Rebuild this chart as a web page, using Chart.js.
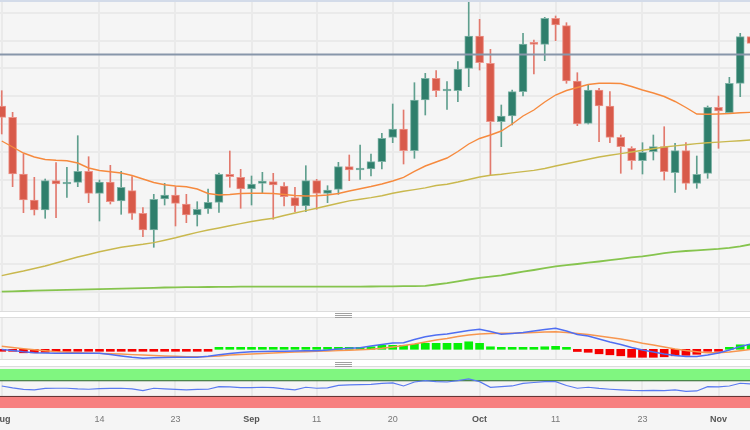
<!DOCTYPE html>
<html>
<head>
<meta charset="utf-8">
<title>Daily chart</title>
<script src="https://cdn.jsdelivr.net/npm/chart.js@4.4.0/dist/chart.umd.min.js"></script>
<style>
  html, body { margin: 0; padding: 0; background: #f5f5f5; }
  #board { position: relative; width: 750px; height: 430px; overflow: hidden; background: #f5f5f5; }
  .pane { position: absolute; left: 0; width: 750px; }
  .sep { position: absolute; left: 0; width: 750px; background: #fff; border-top: 1px solid #dcdcdc; border-bottom: 1px solid #dcdcdc; box-sizing: border-box; }
  .grip { position: absolute; left: 335px; width: 17px; height: 5px; background: repeating-linear-gradient(to bottom, #a0a0a0 0 1px, transparent 1px 2px); }
  #topline { position: absolute; left: 0; top: 0; width: 750px; height: 2px; background: #d3dbe9; }
</style>
</head>
<body>
<div id="board">
  <div class="pane" style="top:0;height:311px"><canvas id="priceChart"></canvas></div>
  <div id="topline"></div>
  <div class="sep" style="top:311px;height:7px"></div>
  <div class="grip" style="top:313px"></div>
  <div class="pane" style="top:318px;height:41px"><canvas id="macdChart"></canvas></div>
  <div class="sep" style="top:359px;height:8px"></div>
  <div class="grip" style="top:362px"></div>
  <div class="pane" style="top:369px;height:63px"><canvas id="rsiChart"></canvas></div>
</div>
<script>
    const days = ['Aug 1','Aug 2','Aug 3','Aug 4','Aug 7','Aug 8','Aug 9','Aug 10','Aug 11','Aug 14','Aug 15','Aug 16','Aug 17','Aug 18','Aug 21','Aug 22','Aug 23','Aug 24','Aug 25','Aug 28','Aug 29','Aug 30','Aug 31',
      'Sep 1','Sep 4','Sep 5','Sep 6','Sep 7','Sep 8','Sep 11','Sep 12','Sep 13','Sep 14','Sep 15','Sep 18','Sep 19','Sep 20','Sep 21','Sep 22','Sep 25','Sep 26','Sep 27','Sep 28','Sep 29',
      'Oct 2','Oct 3','Oct 4','Oct 5','Oct 6','Oct 9','Oct 10','Oct 11','Oct 12','Oct 13','Oct 16','Oct 17','Oct 18','Oct 19','Oct 20','Oct 23','Oct 24','Oct 25','Oct 26','Oct 27','Oct 30','Oct 31',
      'Nov 1','Nov 2','Nov 3','Nov 6'];

    const tickDays = ['Aug 1','Aug 14','Aug 23','Sep 1','Sep 11','Sep 20','Oct 2','Oct 11','Oct 23','Nov 1'];
    const tickText = ['Aug','14','23','Sep','11','20','Oct','11','23','Nov'];

    const opens = [214,202.7,146,120,110,139.3,136,137.7,148.7,126.7,138,119,129.3,106.7,90,121,125,116,105,111,117.7,145.7,142.7,131,136.7,138.3,134,122.3,114,139.3,126.7,130.7,153.3,150,151,158.3,182.7,191,169.3,220,241.7,229,229.3,251.7,284,256.7,198.3,204,228.3,276.7,275.7,301.7,294.3,239,196.7,230,214,182.7,171.7,159.3,168.3,173.3,147.3,169.3,136.7,146.7,212.7,207.3,236.7,283.3];
    const highs = [229.3,207.7,166,142.7,141,157.3,152.7,184.3,163.3,140,154.7,148.7,143.3,112.3,125.7,136.7,133.3,125.7,118.3,131,147,169,150.7,144,147.7,146.7,137.3,132.7,154.3,140.7,134.3,157.7,165,175,166,186.7,216,210,237.3,246.7,249.3,238.3,258.3,318.3,300.7,270.7,215,230,286.7,280,302.7,304,297.3,247.3,234.7,231.7,228.3,185,173.3,177.3,185,193.3,176.7,177.3,164,214,224,242.7,286.7,287];
    const lows = [186,133.3,107.3,105,101.7,102.3,122.7,133.3,117.3,99,116,105.7,100.7,83.3,72.7,115,94,97.3,94,106.7,107.7,132.7,111.7,115,126.7,100.7,114,108.3,108.3,110.7,117.3,125.7,139.3,140.7,144,151,177.3,156,161.7,205,223.3,210.7,218.3,233.3,250,145,173.3,195,224,246,259.3,279.3,236.7,194.3,196,178.3,177.3,146.7,150.7,146,160,140,127.7,130.7,131.7,141.7,171.7,207,223.3,270];
    const closes = [202.7,146,120,110,139.3,136,138,148.7,126.7,138,118.3,132.7,106.7,90,120.7,125,116.7,105,110.7,117.7,145.7,143.3,131,136,139,135,123.3,114,139.3,126.7,130,153.3,150,151.7,158.3,181.7,191,169.3,220,241.7,229.3,229.7,251,284,257.3,198.3,204,228.3,276,275.7,301.7,295,239,196,230,214,182.7,173.3,159.3,167.7,173.3,148.3,169.3,136.7,145.7,212.7,209,236.7,283.3,276.7];

    const maFast = [179,173,167,163,160.5,159.7,159.3,157,152,149.5,148.3,147,144.5,141,137.5,135.3,134,133.3,131,126.5,125,125.5,126.5,126.7,126.7,126.5,125.5,124.5,124,124.3,125,126.5,129,131.3,133.5,136,139,142.7,148.7,154,158,162,168.5,176,181.5,185,189,196,204,210,218,225,229.5,232.5,235.5,236.7,236.7,236.5,233.5,230,227,223.5,218.5,212.5,206,205.7,206,206.5,207.3,207.7];
    const maMid = [44.4,46.8,49,51.5,54,57,60,63,65.5,68.2,70.5,72.8,74.3,75.7,77.4,79.8,82.2,85,87.6,90,92,94.2,96.4,98.5,100.2,101.7,104.5,107,109.4,111.7,114.3,116.7,119.1,120.8,122.4,124.3,126.7,128.8,130.4,132.1,134.5,135.8,138,140.5,143,144.8,145.8,147.1,148.4,149.6,151.5,154,156.3,158.5,160.8,163,164.8,166.4,168,169.7,171.3,173,174.1,175.3,176.4,177.2,177.9,178.6,179.3,180];
    const maSlow = [28.4,28.7,29,29.3,29.6,29.9,30.2,30.4,30.6,30.9,31.1,31.4,31.6,31.9,32.2,32.5,32.7,32.8,32.9,33,33.1,33.2,33.3,33.3,33.3,33.3,33.3,33.3,33.3,33.3,33.3,33.3,33.3,33.4,33.5,33.6,33.7,33.8,33.9,34.2,35.5,36.9,38.7,40.5,42.2,43.4,44.7,46.5,48.3,50,51.9,53.6,54.8,56,57.3,58.5,59.8,61.2,62.6,63.7,65.2,66.8,68.1,69,69.7,70.4,71.1,72.2,73.7,75.7];
    const priceLevel = 265.5;

    const macdLine = [-0.02,-0.12,-0.25,-0.34,-0.37,-0.39,-0.40,-0.40,-0.40,-0.40,-0.52,-0.67,-0.80,-0.90,-0.85,-0.82,-0.80,-0.80,-0.80,-0.69,-0.55,-0.42,-0.32,-0.24,-0.22,-0.20,-0.19,-0.17,-0.15,-0.14,-0.07,0.03,0.10,0.15,0.33,0.48,0.63,0.66,0.98,1.26,1.43,1.53,1.70,1.88,2.00,1.78,1.50,1.58,1.68,1.83,1.98,2.10,1.83,1.48,1.33,1.03,0.73,0.48,0.18,-0.07,-0.27,-0.47,-0.62,-0.72,-0.72,-0.57,-0.37,-0.07,0.28,0.53];
    const signalLine = [0.30,0.18,0.06,-0.05,-0.15,-0.23,-0.30,-0.35,-0.39,-0.41,-0.44,-0.47,-0.53,-0.57,-0.62,-0.67,-0.70,-0.73,-0.74,-0.73,-0.67,-0.57,-0.52,-0.47,-0.42,-0.37,-0.32,-0.27,-0.24,-0.20,-0.17,-0.13,-0.09,-0.04,0.00,0.10,0.23,0.38,0.53,0.73,0.93,1.08,1.28,1.43,1.53,1.58,1.60,1.60,1.63,1.68,1.73,1.76,1.68,1.58,1.48,1.33,1.18,1.03,0.83,0.60,0.43,0.23,0.03,-0.12,-0.24,-0.34,-0.34,-0.27,-0.14,0.00];
    const histogram = [-0.1,-0.15,-0.35,-0.35,-0.3,-0.25,-0.2,-0.15,-0.1,-0.05,-0.05,-0.08,-0.1,-0.2,-0.12,-0.08,-0.05,-0.04,-0.03,-0.02,0.02,0.05,0.05,0.05,0.05,0.05,0.05,0.04,0.04,0.05,0.07,0.1,0.15,0.15,0.25,0.4,0.4,0.4,0.5,0.6,0.6,0.6,0.6,0.75,0.6,0.25,0.05,0.02,0.05,0.15,0.25,0.3,0.1,-0.22,-0.3,-0.45,-0.55,-0.65,-0.8,-0.8,-0.8,-0.75,-0.65,-0.6,-0.5,-0.1,-0.05,0.05,0.45,0.5];

    const rsi = [56.7,51.7,47.8,46.6,50.4,50.9,50.9,49.1,48.3,49.9,50.4,50.9,49.1,44.8,50.9,49.1,47.8,46.6,47.8,48.3,55,54.2,52.4,52.4,53.4,52.4,49.1,46.6,53.4,50.9,51.7,58,59.3,60,60.6,63.1,64.4,56.7,66.9,70.2,67.7,66.9,70.2,74.6,67.7,53.4,55,56.7,63.1,65.6,67.7,67.7,58,50.9,53.4,50.4,48.3,46.6,45.3,44.8,45.3,44.8,46.6,42.7,44,55,54.2,56.7,63.6,61.8];
    const rsiBands = [0, 30, 70, 100];

    // visible window, in trading-day index
    const xMin = -0.16;
    const xMax = 68.9;

    const fontFamily = '"Liberation Sans", Arial, sans-serif';
    const isMonth = i => /^[A-Za-z]/.test(tickText[i] || '');
    const series = arr => arr.map((v, i) => ({ x: i, y: v }));
    const flat = v => [{ x: xMin - 1, y: v }, { x: xMax + 1, y: v }];
    const candleColor = (up, down) => c => closes[c.dataIndex] >= opens[c.dataIndex] ? up : down;

    function timeAxis(showLabels) {
      return {
        type: 'linear',
        min: xMin,
        max: xMax,
        offset: false,
        afterBuildTicks: axis => { axis.ticks = tickDays.map(d => ({ value: days.indexOf(d) })); },
        afterFit: axis => { axis.paddingLeft = 0; axis.paddingRight = 0; },
        grid: { color: '#eaeaea', lineWidth: 2, drawTicks: false, offset: false },
        border: { display: false },
        ticks: {
          display: showLabels,
          autoSkip: false,
          maxRotation: 0,
          padding: 6,
          callback: (v, i) => tickText[i],
          color: c => isMonth(c.index) ? '#555' : '#777',
          font: c => ({ family: fontFamily, size: 9, weight: isMonth(c.index) ? 'bold' : 'normal' })
        }
      };
    }

    function baseOptions(extra) {
      return Object.assign({
        responsive: true,
        maintainAspectRatio: false,
        animation: false,
        events: [],
        layout: { padding: 0, autoPadding: false },
        plugins: { legend: { display: false }, tooltip: { enabled: false } }
      }, extra);
    }

    const lineStyle = { type: 'line', pointRadius: 0, fill: false, tension: 0 };

    // price panel: candles + moving averages
    new Chart(document.getElementById('priceChart'), {
      type: 'bar',
      data: {
        datasets: [
          Object.assign({}, lineStyle, { data: flat(priceLevel), borderColor: '#8796aa', borderWidth: 2, order: -1 }),
          Object.assign({}, lineStyle, { data: series(maFast), borderColor: '#f68a3e', borderWidth: 1.4, order: 0 }),
          Object.assign({}, lineStyle, { data: series(maMid), borderColor: '#c9b84e', borderWidth: 1.4, order: 0 }),
          Object.assign({}, lineStyle, { data: series(maSlow), borderColor: '#86c44e', borderWidth: 1.8, order: 0 }),
          {
            data: days.map((d, i) => ({ x: i, y: [opens[i], closes[i]] })),
            backgroundColor: candleColor('#2f7f6c', '#d85a4a'),
            borderColor: candleColor('#7fb3a6', '#ec9389'),
            borderWidth: 1,
            borderSkipped: false,
            barThickness: 8,
            minBarLength: 2,
            grouped: false,
            order: 1
          },
          {
            data: days.map((d, i) => ({ x: i, y: [lows[i], highs[i]] })),
            backgroundColor: candleColor('#5f9f8e', '#e2796d'),
            barThickness: 1,
            grouped: false,
            order: 2
          }
        ]
      },
      options: baseOptions({
        scales: {
          x: timeAxis(false),
          y: {
            min: 9,
            max: 320,
            afterBuildTicks: axis => {
              axis.ticks = [];
              for (let v = 307.3; v > 9; v -= 27.9) axis.ticks.push({ value: v });
            },
            grid: { color: '#eaeaea', lineWidth: 2, drawTicks: false },
            border: { display: false },
            ticks: { display: false }
          }
        }
      })
    });

    // MACD panel
    new Chart(document.getElementById('macdChart'), {
      type: 'bar',
      data: {
        datasets: [
          Object.assign({}, lineStyle, { data: series(macdLine), borderColor: '#4f6ef2', borderWidth: 1.4, order: 0 }),
          Object.assign({}, lineStyle, { data: series(signalLine), borderColor: '#f7964f', borderWidth: 1.4, order: 1 }),
          {
            data: series(histogram),
            backgroundColor: c => histogram[c.dataIndex] >= 0 ? '#06f006' : '#f50000',
            barThickness: 8,
            minBarLength: 2,
            grouped: false,
            order: 2
          }
        ]
      },
      options: baseOptions({
        scales: {
          x: timeAxis(false),
          y: { display: false, min: -0.97, max: 3.13 }
        }
      })
    });

    // RSI panel with overbought / oversold zones
    new Chart(document.getElementById('rsiChart'), {
      type: 'line',
      data: {
        datasets: [
          Object.assign({}, lineStyle, { data: series(rsi), borderColor: '#5a7af0', borderWidth: 1.2, order: 0 }),
          Object.assign({}, lineStyle, { data: flat(rsiBands[3]), borderWidth: 0, backgroundColor: '#80f680', fill: '+1', order: 3 }),
          Object.assign({}, lineStyle, { data: flat(rsiBands[2]), borderColor: '#2f5f2f', borderWidth: 1, order: 2 }),
          Object.assign({}, lineStyle, { data: flat(rsiBands[1]), borderColor: '#5f2f2f', borderWidth: 1, backgroundColor: '#f78080', fill: 'origin', order: 2 })
        ]
      },
      options: baseOptions({
        layout: { padding: { bottom: 1 }, autoPadding: false },
        scales: {
          x: timeAxis(true),
          y: { display: false, min: rsiBands[0], max: rsiBands[3] }
        }
      })
    });
</script>
</body>
</html>
